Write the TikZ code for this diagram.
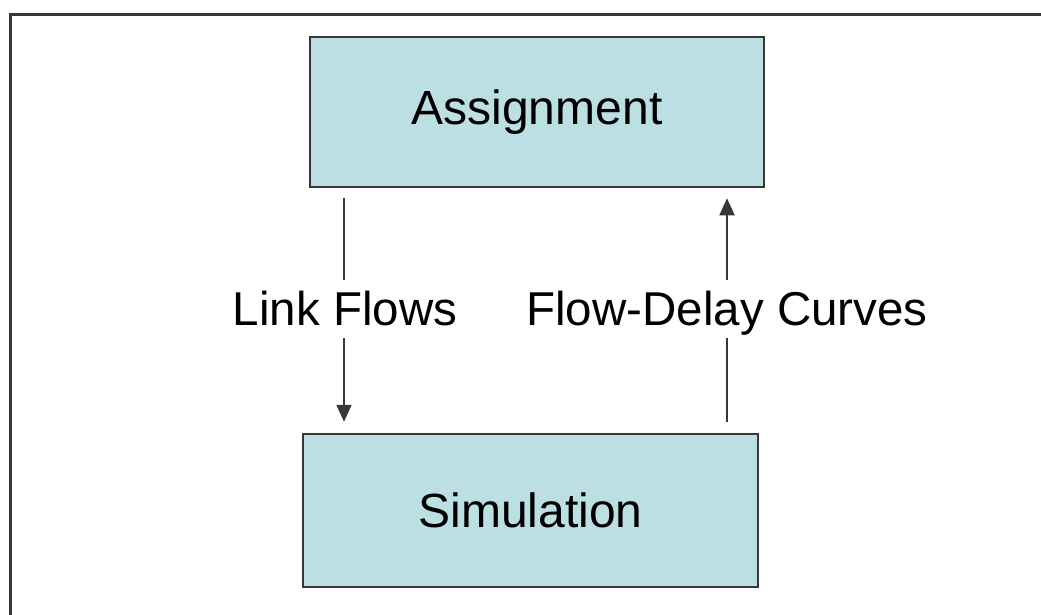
\documentclass[tikz,border=0pt]{standalone}
\usepackage{fontspec}
\setmainfont{Liberation Sans}
\usetikzlibrary{arrows.meta}
\definecolor{boxfill}{RGB}{187,223,227}
\definecolor{edgegray}{RGB}{55,55,55}
\tikzset{
  procbox/.style={draw=edgegray, line width=2.5pt, fill=boxfill, minimum width=#1, inner sep=0pt,
    font=\fontsize{48}{57}\selectfont},
  flowlabel/.style={font=\fontsize{47.5}{57}\selectfont, text height=33pt, text depth=1pt,
    inner ysep=12pt, inner xsep=0pt, anchor=base},
  conn/.style={draw=edgegray, line width=1.8pt},
  connarrow/.style={conn, -{Triangle[length=17pt,width=15pt]}}
}
\begin{document}
\begin{tikzpicture}[x=1pt,y=-1pt]
\useasboundingbox (0,0) rectangle (1041,614);
\clip (0,0) rectangle (1041,614);
\draw[edgegray, line width=3pt] (10,14) rectangle (1060,640);
\node[procbox=454pt, minimum height=150pt] (A) at (537,112) {Assignment};
\node[procbox=455pt, minimum height=153pt] (S) at (530.5,510.5) {Simulation};
\node[flowlabel] (lf) at (345,325) {Link Flows};
\node[flowlabel] (fd) at (727,325) {Flow-Delay Curves};
\coordinate (lfx) at (344,0);
\coordinate (fdx) at (727,0);
\draw[conn] ([yshift=-10pt]A.south -| lfx) -- (lf.north -| lfx);
\draw[connarrow] (lf.south -| lfx) -- ([yshift=11pt]S.north -| lfx);
\draw[conn] ([yshift=11pt]S.north -| fdx) -- (fd.south -| fdx);
\draw[connarrow] (fd.north -| fdx) -- ([yshift=-10pt]A.south -| fdx);
\end{tikzpicture}
\end{document}
